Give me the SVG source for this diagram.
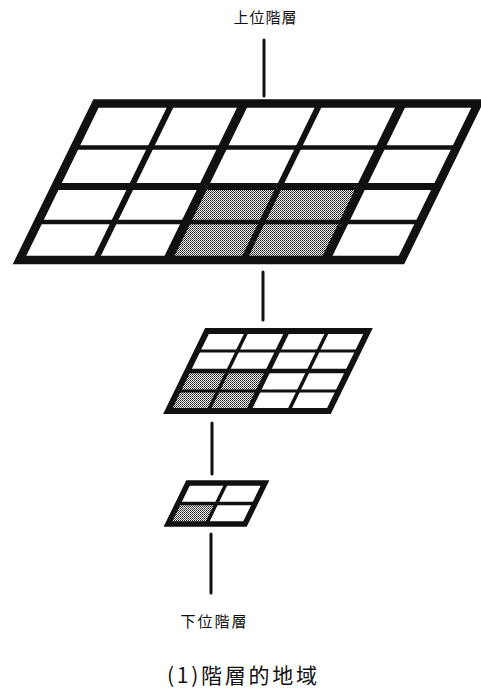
<svg xmlns="http://www.w3.org/2000/svg" width="481" height="692" viewBox="0 0 481 692">
  <defs>
    <!-- halftone screen used for the highlighted cells -->
    <pattern id="screen" width="2" height="2" patternUnits="userSpaceOnUse">
      <rect width="2" height="2" fill="#efefef"/>
      <rect x="0" y="0" width="1" height="1" fill="#222"/>
      <rect x="1" y="1" width="1" height="1" fill="#555"/>
    </pattern>
  </defs>
  <style>
    .bg { fill: #fff; }
    .shade { fill: url(#screen); }
    .frame { fill: none; stroke: #111; stroke-linejoin: miter; }
    .ln { stroke: #111; stroke-linecap: butt; fill: none; }
    .conn { stroke: #111; stroke-width: 3; stroke-linecap: round; }
    .lbl { font-family: "Noto Sans CJK JP", "Noto Sans CJK SC", sans-serif; fill: #111; text-anchor: middle; }
  </style>
  <rect width="481" height="692" fill="#fff"/>

  <!-- vertical links between the levels -->
  <g id="connectors">
    <line class="conn" x1="264" y1="40" x2="264" y2="96"/>
    <line class="conn" x1="263" y1="272" x2="263" y2="320"/>
    <line class="conn" x1="212" y1="423" x2="212" y2="474"/>
    <line class="conn" x1="211" y1="534" x2="211" y2="593"/>
  </g>

  <!-- upper level: 5 x 4 cells -->
  <g id="upper-grid">
    <polygon class="bg" points="96,103.5 478,103.5 401.5,260 19.5,260"/>
    <polygon class="shade" points="203.45,186.5 361.45,186.5 325.5,260 167.5,260"/>
    <!-- thin rows -->
    <line class="ln" stroke-width="4.5" x1="74.5" y1="147.5" x2="456.5" y2="147.5"/>
    <line class="ln" stroke-width="4.5" x1="39.8" y1="222" x2="421.8" y2="222"/>
    <!-- thick row -->
    <line class="ln" stroke-width="7" x1="55.4" y1="186.5" x2="437.4" y2="186.5"/>
    <!-- thin columns -->
    <line class="ln" stroke-width="6" x1="172" y1="103.5" x2="95.5" y2="260"/>
    <line class="ln" stroke-width="6" x1="320" y1="103.5" x2="243.5" y2="260"/>
    <!-- thick columns -->
    <line class="ln" stroke-width="9" x1="244" y1="103.5" x2="167.5" y2="260"/>
    <line class="ln" stroke-width="9" x1="402" y1="103.5" x2="325.5" y2="260"/>
    <polygon class="frame" stroke-width="8.5" points="96,103.5 478,103.5 401.5,260 19.5,260"/>
  </g>

  <!-- middle level: 4 x 4 cells -->
  <g id="middle-grid">
    <polygon class="bg" points="207,331 368,331 328.9,411 167.9,411"/>
    <polygon class="shade" points="187.45,371 267.95,371 248.4,411 167.9,411"/>
    <line class="ln" stroke-width="3" x1="197.2" y1="351" x2="358.2" y2="351"/>
    <line class="ln" stroke-width="3" x1="177.7" y1="391" x2="338.7" y2="391"/>
    <line class="ln" stroke-width="4.5" x1="187.45" y1="371" x2="348.45" y2="371"/>
    <line class="ln" stroke-width="3.5" x1="247.25" y1="331" x2="208.15" y2="411"/>
    <line class="ln" stroke-width="3.5" x1="327.75" y1="331" x2="288.65" y2="411"/>
    <line class="ln" stroke-width="5" x1="287.5" y1="331" x2="248.4" y2="411"/>
    <polygon class="frame" stroke-width="6" points="207,331 368,331 328.9,411 167.9,411"/>
  </g>

  <!-- lower level: 2 x 2 cells -->
  <g id="lower-grid">
    <polygon class="bg" points="188,483 265,483 245,524 168,524"/>
    <polygon class="shade" points="178,503.5 216.5,503.5 206.5,524 168,524"/>
    <line class="ln" stroke-width="3.5" x1="178" y1="503.5" x2="255" y2="503.5"/>
    <line class="ln" stroke-width="3.5" x1="226.5" y1="483" x2="206.5" y2="524"/>
    <polygon class="frame" stroke-width="5.5" points="188,483 265,483 245,524 168,524"/>
  </g>

  <g id="label-upper">
    <text class="lbl" x="265" y="23" font-size="15" textLength="63" lengthAdjust="spacing">上位階層</text>
  </g>
  <g id="label-lower">
    <text class="lbl" x="213.5" y="627" font-size="15" textLength="66" lengthAdjust="spacing">下位階層</text>
  </g>
  <g id="caption">
    <text class="lbl" x="242" y="683" font-size="21" textLength="150" lengthAdjust="spacing">(1)階層的地域</text>
  </g>
</svg>
